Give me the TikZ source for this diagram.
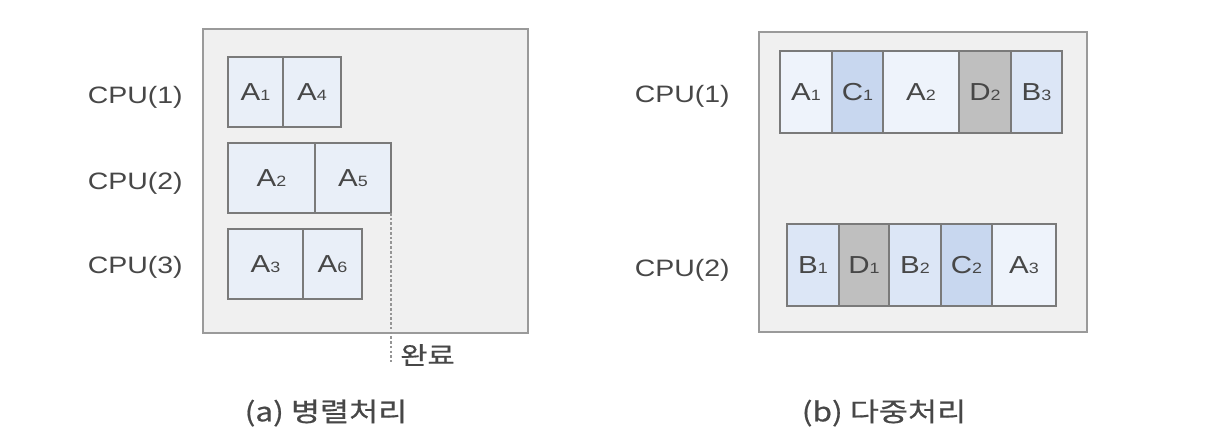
\documentclass[tikz,border=0pt]{standalone}
\usepackage{fontspec}
\setmainfont{Liberation Sans}
\newfontfamily\krfont[FakeBold=0.6]{Noto Sans CJK KR}

\definecolor{txtgray}{HTML}{474747}
\definecolor{framegray}{HTML}{9A9A9A}
\definecolor{panelfill}{HTML}{F0F0F0}
\definecolor{edgegray}{HTML}{7A7A7A}
\definecolor{cellA}{HTML}{EEF3FB}
\definecolor{cellB}{HTML}{DCE6F6}
\definecolor{cellC}{HTML}{C8D7EF}
\definecolor{cellD}{HTML}{BFBFBF}
\definecolor{cellL}{HTML}{E9EFF8}

\newcommand{\wide}[1]{\scalebox{1.2}[1]{#1}}
\newcommand{\tsk}[2]{\wide{#1{\fontsize{8.5}{8.5}\selectfont #2}}}

\tikzset{
    panel/.style={draw=framegray, fill=panelfill, line width=1.5pt},
    cellbox/.style={draw=edgegray, line width=1.1pt},
    cpulabel/.style={font=\fontsize{13.5}{14}\selectfont, text=txtgray, inner sep=0pt, anchor=east},
    tasklabel/.style={font=\fontsize{14}{14}\selectfont, text=txtgray, inner sep=0pt},
    caption/.style={font=\krfont\fontsize{15}{16}\selectfont, text=txtgray, inner sep=0pt}
}

\begin{document}
\begin{tikzpicture}[x=0.02cm, y=-0.02cm]
    \useasboundingbox (0,0) rectangle (1230,448);

    % (a) parallel
    \draw[panel] (203,29) rectangle (528,333);
    \node[cpulabel] (pc1) at (183,97) {\wide{CPU(1)}};
    \node[cpulabel] (pc2) at (183,183) {\wide{CPU(2)}};
    \node[cpulabel] (pc3) at (183,267) {\wide{CPU(3)}};

    \foreach \xa/\xb/\ya/\yb/\nm/\lt/\nb in {
        228/283/57/127/pa1/A/1, 283/341/57/127/pa4/A/4,
        228/315/143/213/pa2/A/2, 315/391/143/213/pa5/A/5,
        228/303/229/299/pa3/A/3, 303/362/229/299/pa6/A/6} {
        \draw[cellbox, fill=cellL] (\xa,\ya) rectangle (\xb,\yb)
            node[tasklabel, midway] (\nm) {\tsk{\lt}{\nb}};
    }

    % completion mark
    \coordinate (done) at (391,213);
    \coordinate (doneend) at (391,362);
    \draw[edgegray!80, line width=0.6pt, dash pattern=on 1.5pt off 1.2pt] (done) -- (doneend);
    \node[caption, font=\krfont\fontsize{14}{14}\selectfont, anchor=west] (donetxt) at (400,355) {\wide{완료}};

    \node[caption] (capa) at (326,413) {\wide{(a) 병렬처리}};

    % (b) multi
    \draw[panel] (759,32) rectangle (1087,332);
    \node[cpulabel] (mc1) at (730,96) {\wide{CPU(1)}};
    \node[cpulabel] (mc2) at (730,270) {\wide{CPU(2)}};

    \foreach \xa/\xb/\nm/\lt/\nb/\cl in {
        780/832/ma1/A/1/cellA, 832/883/mc1/C/1/cellC, 883/959/ma2/A/2/cellA,
        959/1011/md2/D/2/cellD, 1011/1062/mb3/B/3/cellB} {
        \draw[cellbox, fill=\cl] (\xa,51) rectangle (\xb,133)
            node[tasklabel, midway] (\nm) {\tsk{\lt}{\nb}};
    }
    \foreach \xa/\xb/\nm/\lt/\nb/\cl in {
        787/839/mb1/B/1/cellB, 839/889/md1/D/1/cellD, 889/941/mb2/B/2/cellB,
        941/992/mc2/C/2/cellC, 992/1056/ma3/A/3/cellA} {
        \draw[cellbox, fill=\cl] (\xa,224) rectangle (\xb,306)
            node[tasklabel, midway] (\nm) {\tsk{\lt}{\nb}};
    }

    \node[caption] (capb) at (884,413) {\wide{(b) 다중처리}};
\end{tikzpicture}
\end{document}
